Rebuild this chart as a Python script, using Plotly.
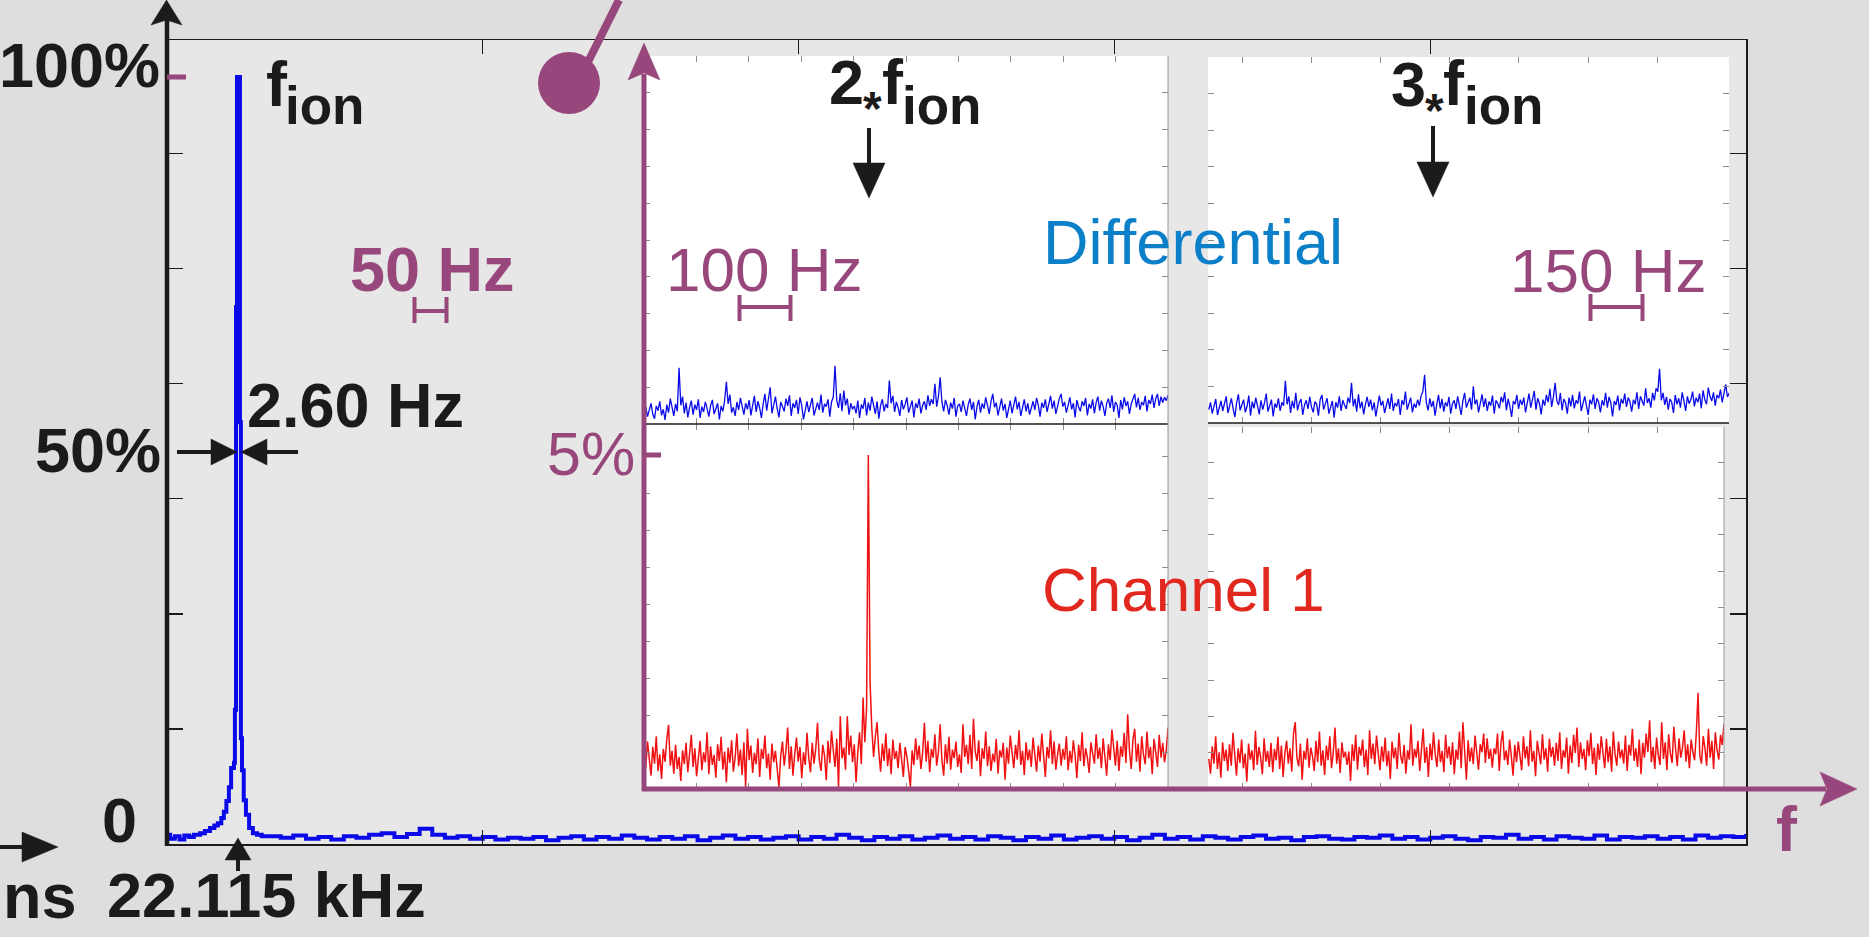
import numpy as np
import plotly.graph_objects as go

W, H = 1869, 937

# ------------------------------------------------------------------ data
# Main spectrum (frequency in axis units 0..5, amplitude in % of f_ion peak)
MAIN_PEAK_F = [0.000, 0.010, 0.025, 0.040, 0.055, 0.070, 0.085, 0.105, 0.120, 0.136,
               0.150, 0.161, 0.172, 0.180, 0.188, 0.196, 0.203, 0.212, 0.215, 0.2185,
               0.2216, 0.2280, 0.2310, 0.2340, 0.2375, 0.2430, 0.2500, 0.2600, 0.2720,
               0.2850, 0.3000]
MAIN_PEAK_AMP = [1.2, 0.7, 1.0, 0.6, 1.1, 0.9, 1.2, 1.4, 1.7, 2.1,
                 2.4, 2.7, 3.4, 4.2, 5.6, 7.4, 9.9, 10.6, 17.5, 70.0,
                 100.0, 100.0, 55.0, 13.8, 9.6, 5.7, 3.8, 2.1, 1.4,
                 1.2, 1.0]
MAIN_NOISE_F_START = 0.32
MAIN_NOISE_F_END = 5.0
MAIN_NOISE_AMP = [
    1.0, 0.8, 1.1, 0.7, 0.9, 0.6, 1.0, 0.8, 1.2, 1.4, 0.9, 1.3, 2.0, 1.2, 0.8, 1.0, 0.7, 0.9, 0.6, 0.8,
    0.7, 0.9, 0.5, 0.8, 1.0, 0.6, 0.9, 0.7, 1.1, 0.8, 0.6, 0.9, 0.7, 1.0, 0.5, 0.8, 1.1, 0.7, 0.9, 0.6,
    0.8, 1.0, 0.6, 0.9, 0.7, 1.2, 0.8, 0.5, 0.9, 0.7, 1.0, 0.6, 0.8, 1.1, 0.7, 0.9, 0.6, 1.0, 0.8, 0.5,
    0.9, 0.7, 1.1, 0.6, 0.8, 1.0, 0.7, 0.9, 0.5, 0.8, 1.2, 0.7, 0.9, 0.6, 1.0, 0.8, 0.6, 0.9, 1.1, 0.7,
    0.8, 0.5, 0.9, 1.0, 0.7, 0.6, 0.9, 0.8, 1.1, 0.7, 0.9, 0.6, 0.8, 1.0, 0.7, 0.5, 0.9, 0.8, 1.2, 0.7,
    0.9, 0.6, 1.0, 0.8, 0.7, 1.1, 0.6, 0.9, 0.8, 1.0, 0.7, 0.9, 0.6, 1.1, 0.8, 1.0, 0.9, 1.3]

# Insets around 2*f_ion (left, 0..10) and 3*f_ion (right), amplitude in %
LEFT_F_SPAN = (0.0, 10.0)
RIGHT_F_SPAN = (-0.48, 7.04)
RIGHT_CH1_F_SPAN = (-0.48, 6.99)

DIFF_2F_AMP = [
    0.18, 0.26, 0.11, 0.22, 0.31, 0.15, 0.08, 0.27, 0.20, 0.34, 0.13, 0.22, 0.06, 0.29, 0.17, 0.38, 0.24, 0.12, 0.30, 0.19,
    0.84, 0.28, 0.41, 0.16, 0.32, 0.10, 0.25, 0.35, 0.14, 0.29, 0.21, 0.37, 0.09, 0.26, 0.18, 0.33, 0.23, 0.11, 0.28, 0.36,
    0.15, 0.24, 0.31, 0.07, 0.27, 0.19, 0.35, 0.63, 0.30, 0.44, 0.17, 0.25, 0.12, 0.33, 0.21, 0.39, 0.26, 0.14, 0.31, 0.22,
    0.36, 0.13, 0.28, 0.42, 0.18, 0.34, 0.24, 0.09, 0.30, 0.45, 0.20, 0.37, 0.55, 0.16, 0.29, 0.41, 0.23, 0.10, 0.33, 0.26,
    0.19, 0.38, 0.27, 0.43, 0.12, 0.31, 0.24, 0.36, 0.15, 0.40, 0.28, 0.07, 0.22, 0.34, 0.18, 0.29, 0.39, 0.13, 0.25, 0.32,
    0.21, 0.44, 0.17, 0.30, 0.26, 0.37, 0.11, 0.33, 0.40, 0.87, 0.35, 0.24, 0.46, 0.19, 0.50, 0.28, 0.38, 0.14, 0.31, 0.22,
    0.27, 0.16, 0.35, 0.09, 0.29, 0.23, 0.39, 0.13, 0.32, 0.20, 0.41, 0.26, 0.15, 0.34, 0.08, 0.28, 0.37, 0.19, 0.30, 0.24,
    0.65, 0.31, 0.42, 0.18, 0.33, 0.25, 0.12, 0.36, 0.22, 0.29, 0.40, 0.17, 0.27, 0.35, 0.10, 0.31, 0.24, 0.38, 0.16, 0.28,
    0.34, 0.21, 0.43, 0.27, 0.37, 0.30, 0.60, 0.26, 0.41, 0.70, 0.33, 0.19, 0.36, 0.28, 0.14, 0.32, 0.23, 0.39, 0.11, 0.27,
    0.30, 0.18, 0.35, 0.24, 0.12, 0.29, 0.38, 0.21, 0.33, 0.07, 0.26, 0.36, 0.17, 0.31, 0.23, 0.40, 0.28, 0.15, 0.34, 0.45,
    0.25, 0.32, 0.13, 0.27, 0.38, 0.20, 0.30, 0.09, 0.24, 0.35, 0.16, 0.29, 0.41, 0.22, 0.33, 0.12, 0.27, 0.37, 0.19, 0.31,
    0.14, 0.26, 0.34, 0.21, 0.39, 0.28, 0.11, 0.32, 0.24, 0.37, 0.18, 0.30, 0.42, 0.23, 0.35, 0.15, 0.29, 0.38, 0.45, 0.26,
    0.33, 0.17, 0.28, 0.40, 0.22, 0.31, 0.10, 0.36, 0.25, 0.19, 0.34, 0.27, 0.39, 0.13, 0.30, 0.23, 0.37, 0.16, 0.32, 0.41,
    0.20, 0.35, 0.26, 0.12, 0.31, 0.38, 0.24, 0.43, 0.18, 0.33, 0.28, 0.09, 0.36, 0.22, 0.40, 0.27, 0.34, 0.15, 0.30, 0.37,
    0.45, 0.25, 0.39, 0.21, 0.33, 0.28, 0.42, 0.19, 0.36, 0.30, 0.44, 0.24, 0.38, 0.45, 0.27, 0.41, 0.32, 0.40, 0.35, 0.43]

DIFF_3F_AMP = [
    0.20, 0.31, 0.14, 0.27, 0.36, 0.12, 0.24, 0.33, 0.18, 0.29, 0.40, 0.15, 0.26, 0.37, 0.21, 0.09, 0.30, 0.43, 0.19, 0.28,
    0.35, 0.16, 0.25, 0.41, 0.11, 0.32, 0.22, 0.38, 0.27, 0.13, 0.34, 0.20, 0.30, 0.44, 0.17, 0.26, 0.35, 0.10, 0.29, 0.23,
    0.37, 0.18, 0.31, 0.26, 0.63, 0.28, 0.40, 0.15, 0.33, 0.22, 0.45, 0.19, 0.30, 0.36, 0.12, 0.27, 0.34, 0.21, 0.39, 0.24,
    0.16, 0.32, 0.28, 0.11, 0.35, 0.42, 0.20, 0.29, 0.37, 0.14, 0.26, 0.33, 0.08, 0.31, 0.23, 0.40, 0.18, 0.34, 0.27, 0.21,
    0.38, 0.30, 0.60, 0.25, 0.36, 0.17, 0.43, 0.22, 0.32, 0.13, 0.28, 0.39, 0.24, 0.35, 0.19, 0.31, 0.10, 0.27, 0.41, 0.26,
    0.33, 0.15, 0.29, 0.37, 0.21, 0.44, 0.18, 0.30, 0.25, 0.36, 0.12, 0.34, 0.27, 0.47, 0.20, 0.31, 0.38, 0.16, 0.29, 0.23,
    0.35, 0.26, 0.41, 0.47, 0.72, 0.30, 0.19, 0.37, 0.24, 0.33, 0.11, 0.28, 0.42, 0.22, 0.36, 0.17, 0.31, 0.25, 0.39, 0.14,
    0.29, 0.34, 0.21, 0.40, 0.27, 0.12, 0.33, 0.45, 0.23, 0.31, 0.38, 0.20, 0.55, 0.28, 0.35, 0.16, 0.30, 0.43, 0.24, 0.37,
    0.18, 0.32, 0.26, 0.41, 0.14, 0.34, 0.29, 0.22, 0.39, 0.31, 0.46, 0.19, 0.36, 0.25, 0.09, 0.33, 0.28, 0.42, 0.21, 0.35,
    0.27, 0.38, 0.16, 0.31, 0.44, 0.23, 0.34, 0.48, 0.20, 0.37, 0.29, 0.13, 0.35, 0.26, 0.42, 0.31, 0.51, 0.24, 0.39, 0.60,
    0.33, 0.27, 0.45, 0.19, 0.36, 0.30, 0.14, 0.38, 0.25, 0.42, 0.22, 0.34, 0.29, 0.47, 0.18, 0.32, 0.40, 0.26, 0.12, 0.35,
    0.28, 0.43, 0.21, 0.37, 0.31, 0.16, 0.34, 0.26, 0.45, 0.23, 0.39, 0.30, 0.10, 0.33, 0.27, 0.41, 0.19, 0.36, 0.29, 0.44,
    0.24, 0.38, 0.32, 0.17, 0.35, 0.28, 0.46, 0.21, 0.40, 0.33, 0.26, 0.52, 0.30, 0.37, 0.23, 0.45, 0.34, 0.52, 0.47, 0.81,
    0.34, 0.45, 0.27, 0.39, 0.20, 0.36, 0.31, 0.15, 0.42, 0.28, 0.37, 0.23, 0.46, 0.33, 0.18, 0.40, 0.29, 0.35, 0.47, 0.25,
    0.38, 0.31, 0.44, 0.22, 0.49, 0.35, 0.28, 0.53, 0.40, 0.33, 0.46, 0.26, 0.42, 0.37, 0.50, 0.31, 0.45, 0.58, 0.39, 0.45]

CH1_2F_AMP = [
    0.55, 0.32, 0.71, 0.44, 0.20, 0.63, 0.38, 0.79, 0.27, 0.52, 0.15, 0.60, 0.41, 0.74, 0.96, 0.35, 0.57, 0.23, 0.66, 0.30,
    0.48, 0.12, 0.58, 0.37, 0.69, 0.25, 0.50, 0.81, 0.33, 0.61, 0.19, 0.46, 0.72, 0.28, 0.55, 0.40, 0.85, 0.22, 0.64, 0.36,
    0.51, 0.17, 0.67, 0.42, 0.78, 0.29, 0.56, 0.10, 0.62, 0.39, 0.73, 0.26, 0.47, 0.83, 0.34, 0.59, 0.21, 0.70, 0.03, 0.90,
    0.43, 0.65, 0.24, 0.54, 0.37, 0.76, 0.18, 0.60, 0.45, 0.80, 0.31, 0.53, 0.14, 0.68, 0.40, 0.57, 0.26, 0.03, 0.49, 0.71,
    0.35, 0.58, 0.92, 0.30, 0.64, 0.20, 0.52, 0.77, 0.41, 0.63, 0.16, 0.55, 0.36, 0.84, 0.47, 0.25, 0.69, 0.38, 0.60, 0.99,
    0.44, 0.27, 0.66, 0.50, 0.13, 0.72, 0.39, 0.87, 0.58, 0.33, 0.75, 0.03, 1.09, 0.46, 0.62, 0.29, 1.09, 0.51, 0.80, 0.40,
    0.67, 0.10, 0.56, 0.85, 0.37, 1.37, 0.70, 1.20, 5.00, 1.60, 0.90, 0.48, 0.79, 1.00, 0.55, 0.26, 0.68, 0.42, 0.83, 0.34,
    0.61, 0.22, 0.74, 0.45, 0.57, 0.31, 0.69, 0.40, 0.18, 0.63, 0.49, 0.27, 0.03, 0.58, 0.36, 0.76, 0.44, 0.65, 0.30, 0.54,
    0.99, 0.41, 0.72, 0.25, 0.60, 0.47, 0.82, 0.35, 0.55, 0.97, 0.43, 0.20, 0.67, 0.38, 0.78, 0.29, 0.59, 0.46, 0.71, 0.33,
    0.52, 0.24, 0.97, 0.48, 0.66, 0.37, 0.81, 0.30, 1.05, 0.56, 0.42, 0.73, 0.19, 0.61, 0.45, 0.86, 0.34, 0.64, 0.27, 0.53,
    0.40, 0.75, 0.23, 0.58, 0.47, 0.69, 0.14, 0.62, 0.38, 0.80, 0.50, 0.31, 0.66, 0.44, 0.88, 0.36, 0.57, 0.21, 0.70, 0.43,
    0.59, 0.33, 0.77, 0.48, 0.26, 0.65, 0.41, 0.83, 0.55, 0.18, 0.63, 0.46, 0.88, 0.37, 0.71, 0.29, 0.52, 0.68, 0.35, 0.60,
    0.44, 0.79, 0.28, 0.57, 0.39, 0.73, 0.50, 0.16, 0.66, 0.42, 0.85, 0.34, 0.61, 0.47, 0.24, 0.70, 0.53, 0.38, 0.82, 0.45,
    0.62, 0.31, 0.76, 0.49, 0.20, 0.67, 0.43, 0.89, 0.56, 0.35, 0.72, 0.27, 0.64, 0.48, 0.84, 0.39, 1.12, 0.58, 0.30, 0.74,
    0.90, 0.41, 0.68, 0.26, 0.79, 0.52, 0.37, 0.86, 0.46, 0.63, 0.22, 0.75, 0.55, 0.33, 0.81, 0.47, 0.69, 0.40, 0.58, 0.92]

CH1_3F_AMP = [
    0.45, 0.23, 0.64, 0.38, 0.79, 0.30, 0.55, 0.17, 0.70, 0.42, 0.59, 0.27, 0.67, 0.35, 0.84, 0.48, 0.20, 0.61, 0.39, 0.74,
    0.31, 0.53, 0.11, 0.68, 0.44, 0.58, 0.28, 0.87, 0.36, 0.63, 0.47, 0.22, 0.76, 0.41, 0.57, 0.33, 0.69, 0.25, 0.60, 0.43,
    0.78, 0.30, 0.65, 0.18, 0.54, 0.72, 0.38, 0.61, 0.26, 0.83, 1.00, 0.46, 0.34, 0.68, 0.14, 0.57, 0.44, 0.76, 0.32, 0.62,
    0.49, 0.27, 0.72, 0.40, 0.86, 0.35, 0.58, 0.21, 0.65, 0.43, 0.79, 0.31, 0.54, 0.92, 0.38, 0.61, 0.24, 0.70, 0.47, 0.56,
    0.36, 0.56, 0.12, 0.67, 0.42, 0.81, 0.29, 0.63, 0.50, 0.74, 0.33, 0.59, 0.21, 0.88, 0.45, 0.68, 0.37, 0.80, 0.52, 0.28,
    0.64, 0.41, 0.77, 0.34, 0.57, 0.15, 0.71, 0.46, 0.62, 0.30, 0.84, 0.49, 0.38, 0.66, 0.23, 0.58, 0.44, 0.97, 0.35, 0.60,
    0.47, 0.72, 0.27, 0.55, 0.90, 0.39, 0.63, 0.18, 0.68, 0.43, 0.85, 0.51, 0.33, 0.74, 0.40, 0.57, 0.25, 0.81, 0.46, 0.64,
    0.36, 0.70, 0.22, 0.59, 0.44, 0.86, 0.31, 1.00, 0.50, 0.14, 0.73, 0.41, 0.62, 0.37, 0.80, 0.48, 0.29, 0.67, 0.55, 0.83,
    0.39, 0.76, 0.45, 0.60, 0.32, 0.61, 0.52, 0.83, 0.27, 0.69, 0.87, 0.43, 0.58, 0.36, 0.74, 0.49, 0.20, 0.66, 0.40, 0.71,
    0.53, 0.28, 0.79, 0.46, 0.64, 0.34, 0.88, 0.41, 0.57, 0.19, 0.72, 0.50, 0.37, 0.82, 0.44, 0.61, 0.26, 0.75, 0.48, 0.63,
    0.35, 0.69, 0.42, 0.85, 0.30, 0.58, 0.47, 0.77, 0.23, 0.65, 0.39, 0.81, 0.54, 0.92, 0.33, 0.70, 0.45, 0.60, 0.28, 0.73,
    0.49, 0.84, 0.37, 0.62, 0.21, 0.68, 0.44, 0.79, 0.56, 0.31, 0.75, 0.40, 0.64, 0.26, 0.86, 0.52, 0.35, 0.71, 0.46, 0.59,
    0.38, 0.80, 0.27, 0.66, 0.50, 0.90, 0.42, 0.61, 0.33, 0.74, 0.22, 0.69, 0.47, 0.83, 0.55, 1.03, 0.40, 0.63, 0.30, 0.77,
    0.51, 0.36, 1.00, 0.45, 0.70, 0.28, 0.82, 0.53, 0.39, 0.93, 0.60, 0.34, 0.76, 0.47, 0.62, 0.88, 0.41, 0.67, 0.31, 0.74,
    0.56, 0.43, 0.84, 1.44, 0.50, 0.38, 0.79, 0.61, 0.35, 0.90, 0.47, 0.72, 0.30, 0.85, 0.58, 0.44, 0.81, 0.66, 0.97, 0.80]

LBL_100 = "100%"
LBL_50 = "50%"
LBL_0 = "0"
LBL_5 = "5%"
LBL_FWHM = "2.60 Hz"
LBL_FREQ = "22.115 kHz"
LBL_LEFT_CUT = "ns"
LBL_50HZ = "50 Hz"
LBL_100HZ = "100 Hz"
LBL_150HZ = "150 Hz"
LBL_DIFF = "Differential"
LBL_CH1 = "Channel 1"
LBL_F = "f"

# ------------------------------------------------------------------ style
BLACK = "#1d1b19"
PURPLE = "#97477b"
BLUE_LINE = "#0a0ae8"
RED_LINE = "#f01212"
DIFF_TXT = "#0b7fc8"
CH1_TXT = "#e0281f"
TICK_GRAY = "#8c8c8c"
MAIN_BG = "#e7e7e7"
FONT = "Liberation Sans, Arial, sans-serif"


def px(x):
    return x / W


def py(y):
    return 1 - y / H


def bins(span, n):
    return np.linspace(span[0], span[1], n)


shapes = []
annotations = []


def seg(x0, y0, x1, y1, color, width, layer="above"):
    shapes.append(dict(type="line", xref="paper", yref="paper",
                       x0=px(x0), y0=py(y0), x1=px(x1), y1=py(y1),
                       line=dict(color=color, width=width), layer=layer))


def poly(pts, color):
    path = "M " + " L ".join(f"{px(x):.6f},{py(y):.6f}" for x, y in pts) + " Z"
    shapes.append(dict(type="path", xref="paper", yref="paper", path=path,
                       fillcolor=color, line=dict(color=color, width=0.5), layer="above"))


def rect(x0, y0, x1, y1, color):
    shapes.append(dict(type="rect", xref="paper", yref="paper",
                       x0=px(x0), y0=py(y1), x1=px(x1), y1=py(y0),
                       fillcolor=color, line=dict(width=0), layer="below"))


def text(s, x, y, size, color, bold=True, xanchor="left"):
    annotations.append(dict(text=s, x=px(x), y=py(y), xref="paper", yref="paper",
                            xanchor=xanchor, yanchor="middle", showarrow=False,
                            borderpad=0,
                            font=dict(family=FONT, size=size, color=color,
                                      weight="bold" if bold else "normal")))


# ------------------------------------------------------------------ traces
fig = go.Figure()

main_f = list(MAIN_PEAK_F) + list(bins((MAIN_NOISE_F_START, MAIN_NOISE_F_END), len(MAIN_NOISE_AMP)))
main_a = list(MAIN_PEAK_AMP) + list(MAIN_NOISE_AMP)
fig.add_trace(go.Scatter(x=main_f, y=main_a, mode="lines",
                         line=dict(color=BLUE_LINE, width=4, shape="hv"), xaxis="x", yaxis="y",
                         showlegend=False, hoverinfo="skip"))

fig.add_trace(go.Scatter(x=bins(LEFT_F_SPAN, len(DIFF_2F_AMP)), y=DIFF_2F_AMP,
                         mode="lines", line=dict(color=BLUE_LINE, width=1.3),
                         xaxis="x2", yaxis="y2", showlegend=False, hoverinfo="skip"))
fig.add_trace(go.Scatter(x=bins(RIGHT_F_SPAN, len(DIFF_3F_AMP)), y=DIFF_3F_AMP,
                         mode="lines", line=dict(color=BLUE_LINE, width=1.3),
                         xaxis="x3", yaxis="y3", showlegend=False, hoverinfo="skip"))
fig.add_trace(go.Scatter(x=bins(LEFT_F_SPAN, len(CH1_2F_AMP)), y=CH1_2F_AMP,
                         mode="lines", line=dict(color=RED_LINE, width=1.5),
                         xaxis="x4", yaxis="y4", showlegend=False, hoverinfo="skip"))
fig.add_trace(go.Scatter(x=bins(RIGHT_CH1_F_SPAN, len(CH1_3F_AMP)), y=CH1_3F_AMP,
                         mode="lines", line=dict(color=RED_LINE, width=1.5),
                         xaxis="x5", yaxis="y5", showlegend=False, hoverinfo="skip"))

# ------------------------------------------------------------------ axes
PCT_PX = 7.67      # main: pixels per %
INS_PX = 66.8      # insets: pixels per %


def inset_x(dom, rng, tickvals, anchor):
    return dict(domain=[px(dom[0]), px(dom[1])], range=rng, tickvals=tickvals,
                showticklabels=False, ticks="inside", ticklen=6, tickwidth=1,
                tickcolor=TICK_GRAY, mirror="ticks", showline=False,
                showgrid=False, zeroline=False, anchor=anchor, fixedrange=True)


def inset_y(top, bottom, step_px, anchor):
    top_val = (bottom - top) / INS_PX
    step = step_px / INS_PX
    n = int(round((bottom - top) / step_px))
    return dict(domain=[py(bottom), py(top)], range=[0, top_val],
                tickvals=[step * k for k in range(1, n)],
                showticklabels=False, ticks="inside", ticklen=6, tickwidth=1,
                tickcolor=TICK_GRAY, mirror="ticks", showline=False,
                showgrid=False, zeroline=False, anchor=anchor, fixedrange=True)


R_TICK_PX, R_TICK0 = 69.2, 1242
layout_axes = dict(
    xaxis=dict(domain=[px(167), px(1746)], range=[0, 5], tickvals=[1, 2, 3, 4],
               showticklabels=False, ticks="inside", ticklen=14, tickwidth=1,
               tickcolor=BLACK, showline=True, linecolor=BLACK, linewidth=1.5,
               mirror="ticks", showgrid=False, zeroline=False, anchor="y"),
    yaxis=dict(domain=[py(844), py(40)], range=[0, (844 - 40) / PCT_PX],
               tickvals=[15, 30, 45, 60, 75, 90], showticklabels=False,
               ticks="inside", ticklen=16, tickwidth=1.2, tickcolor=BLACK,
               showline=True, linecolor=BLACK, linewidth=2, mirror="ticks",
               showgrid=False, zeroline=False, anchor="x"),
    xaxis2=inset_x((644, 1168), [0, 10], list(range(1, 10)), "y2"),
    yaxis2=inset_y(56, 424, 36.8, "x2"),
    xaxis3=inset_x((1208, 1729), [(1208 - R_TICK0) / R_TICK_PX, (1729 - R_TICK0) / R_TICK_PX],
                   list(range(0, 7)), "y3"),
    yaxis3=inset_y(57, 423, 36.6, "x3"),
    xaxis4=inset_x((644, 1168), [0, 10], list(range(1, 10)), "y4"),
    yaxis4=inset_y(424, 789, 36.9, "x4"),
    xaxis5=inset_x((1208, 1724), [(1208 - R_TICK0) / R_TICK_PX, (1724 - R_TICK0) / R_TICK_PX],
                   list(range(0, 7)), "y5"),
    yaxis5=inset_y(427, 789, 36.3, "x5"),
)

# ------------------------------------------------------------------ decorations
# grey main plotting area (inset subplots draw their own white background on top)
rect(167, 40, 1746, 844, MAIN_BG)

# inset frame lines
seg(644, 424, 1168, 424, BLACK, 1.5)
seg(1208, 423, 1729, 423, BLACK, 1.5)
seg(1168, 56, 1168, 789, "#9a9a9a", 1)
seg(1724, 427, 1724, 789, "#9a9a9a", 1)

# main y axis (thick, with arrow)
seg(167, 846, 167, 20, BLACK, 4.5)
poly([(166.5, 0), (182, 25), (166.5, 20), (151, 25)], BLACK)
# purple 100% tick
seg(167, 77, 186, 77, PURPLE, 5)

# inset purple axes
seg(644, 791, 644, 74, PURPLE, 5)
poly([(644, 43), (660, 80), (644, 73), (628, 80)], PURPLE)
seg(642, 789, 1826, 789, PURPLE, 5)
poly([(1857, 789), (1820, 806), (1827, 789), (1820, 772)], PURPLE)
seg(644, 455, 661, 455, PURPLE, 5)

# purple pin (circle + stick)
seg(586, 66, 619, 0, PURPLE, 8)
shapes.append(dict(type="circle", xref="paper", yref="paper",
                   x0=px(538), x1=px(600), y0=py(114), y1=py(52),
                   fillcolor=PURPLE, line=dict(color=PURPLE, width=0), layer="above"))

# 50% FWHM arrows
seg(177, 452, 214, 452, BLACK, 4)
poly([(237, 452), (211, 465), (211, 439)], BLACK)
seg(298, 452, 265, 452, BLACK, 4)
poly([(241, 452), (267, 439), (267, 465)], BLACK)

# bottom-left arrow
seg(0, 847, 26, 847, BLACK, 4)
poly([(58, 847), (22, 862), (22, 832)], BLACK)

# arrow under peak
seg(238, 858, 238, 871, BLACK, 4)
poly([(238, 838), (251, 860), (225, 860)], BLACK)

# 2f and 3f arrows
seg(869, 128, 869, 166, BLACK, 4)
poly([(869, 198), (853, 163), (885, 163)], BLACK)
seg(1433, 126, 1433, 164, BLACK, 4)
poly([(1433, 197), (1417, 162), (1449, 162)], BLACK)


# scale brackets
def bracket(x0, x1, y0, y1, ym):
    seg(x0, y0, x0, y1, PURPLE, 4)
    seg(x1, y0, x1, y1, PURPLE, 4)
    seg(x0, ym, x1, ym, PURPLE, 4)


bracket(414.5, 446.5, 297, 323, 311)
bracket(739.5, 790.5, 295, 321, 307)
bracket(1590.5, 1642.5, 294, 321, 307)

# ------------------------------------------------------------------ texts
text(LBL_100, 161, 65, 63, BLACK, xanchor="right")
text(LBL_50, 162, 450, 63, BLACK, xanchor="right")
text(LBL_0, 138, 820, 63, BLACK, xanchor="right")
text(LBL_LEFT_CUT, 2, 896, 63, BLACK)
text(LBL_FREQ, 106, 895, 63, BLACK)
text(LBL_FWHM, 246, 405, 63, BLACK)
text(LBL_50HZ, 349, 269, 63, PURPLE)
text(LBL_5, 636, 454, 61, PURPLE, bold=False, xanchor="right")

text("f", 265, 84, 63, BLACK)
text("ion", 284, 106, 53, BLACK)

text("2", 828, 82, 63, BLACK)
text("*", 872, 109, 48, BLACK, xanchor="center")
text("f", 881, 82, 63, BLACK)
text("ion", 901, 105, 53, BLACK)

text("3", 1390, 84, 63, BLACK)
text("*", 1434, 110, 48, BLACK, xanchor="center")
text("f", 1442, 83, 63, BLACK)
text("ion", 1463, 106, 53, BLACK)

text(LBL_DIFF, 1042, 242, 63, DIFF_TXT, bold=False)
text(LBL_CH1, 1041, 589, 62, CH1_TXT, bold=False)
text(LBL_100HZ, 665, 269, 62, PURPLE, bold=False)
text(LBL_150HZ, 1509, 270, 62, PURPLE, bold=False)
text(LBL_F, 1775, 829, 63, PURPLE)

fig.update_layout(
    width=W, height=H, autosize=False,
    margin=dict(l=0, r=0, t=0, b=0, pad=0),
    paper_bgcolor="#dedede", plot_bgcolor="white",
    showlegend=False, shapes=shapes, annotations=annotations,
    **layout_axes,
)

fig.write_html("out.html", config=dict(displayModeBar=False, staticPlot=True))
